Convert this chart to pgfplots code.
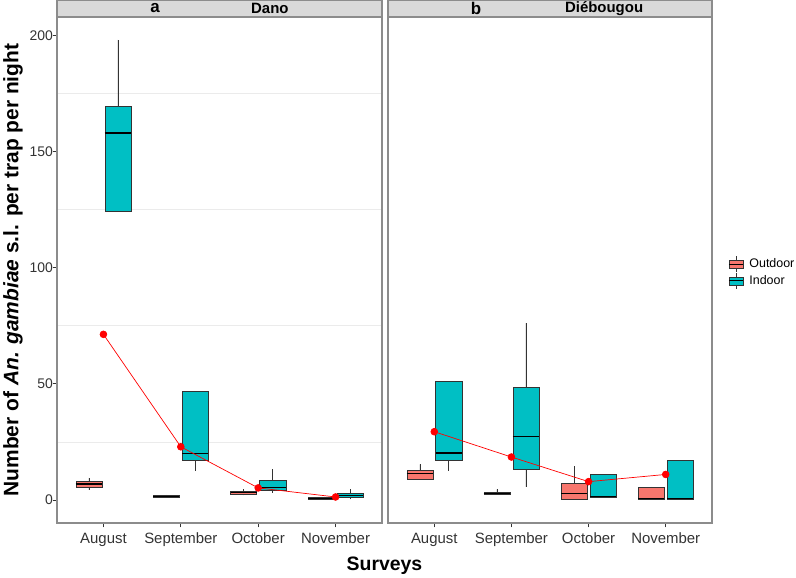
\documentclass[border=0pt]{standalone}
\usepackage{pgfplots}
\pgfplotsset{compat=1.18}
\usepgfplotslibrary{statistics}
\usepackage{fontspec}
\setmainfont{Liberation Sans}
\definecolor{outc}{HTML}{F8766D}
\definecolor{inc}{HTML}{00BFC4}
\definecolor{boxc}{HTML}{333333}
\definecolor{framec}{HTML}{8C8C8C}
\definecolor{stripc}{HTML}{D9D9D9}
\definecolor{gridc}{HTML}{EBEBEB}
\definecolor{meanc}{HTML}{FF0000}
\newcommand{\bx}[7]{\addplot[forget plot, fill=#1, draw=boxc, line width=0.5bp,
  boxplot prepared={draw position=#2, lower whisker=#3, lower quartile=#4,
  median=#5, upper quartile=#6, upper whisker=#7, box extend=0.3375, whisker extend=0}] coordinates {};}
\pgfplotsset{
  panel/.style={scale only axis, height=506bp, xmin=0.4, xmax=4.6, ymin=-9.9, ymax=207.9,
    axis line style={framec, line width=1.2bp},
    xtick={1,2,3,4}, xticklabels={August,September,October,November},
    xtick pos=left, ytick pos=left, tick align=outside, major tick length=4.5bp,
    tick style={boxc, line width=0.7bp},
    minor tick length=0pt, minor ytick={25,75,125,175}, yminorgrids=true, ymajorgrids=false,
    minor grid style={gridc, line width=0.8bp},
    /pgf/number format/assume math mode=true,
    xticklabel style={font=\fontsize{15}{15}\selectfont, text=boxc, yshift=-2bp},
    yticklabel style={font=\fontsize{14}{14}\selectfont, text=boxc, xshift=4bp},
    clip=false,
    boxplot/draw direction=y,
    boxplot/every median/.style={black, line width=1.2bp},
    boxplot/every whisker/.style={boxc, line width=0.6bp},
  },
  legbox/.style={legend image code/.code={
    \draw[boxc, line width=0.6bp] (7bp,-8bp)--(7bp,8bp);
    \draw[boxc, line width=0.5bp, fill=#1] (0bp,-4bp) rectangle (14bp,4bp);
    \draw[black, line width=1.2bp] (0bp,0bp)--(14bp,0bp);
  }},
}
\begin{document}
\begin{tikzpicture}
\path[use as bounding box] (0,0) rectangle (796bp,578bp);
% Panel a: Dano
\begin{axis}[panel, at={(57bp,55bp)}, anchor=south west, width=325bp,
  ytick={0,50,100,150,200}]
\bx{outc}{0.8125}{4.4}{5.6}{6.9}{8.0}{9.5}
\bx{inc}{1.1875}{124.3}{124.3}{158}{169.5}{198}
\bx{outc}{1.8125}{0.9}{1.3}{1.6}{1.9}{2.2}
\bx{inc}{2.1875}{12.6}{17.2}{20.1}{46.9}{46.9}
\bx{outc}{2.8125}{2.0}{2.6}{3.1}{3.7}{4.6}
\bx{inc}{3.1875}{3.1}{4.0}{5.5}{8.5}{13.3}
\bx{outc}{3.8125}{0.2}{0.4}{0.7}{1.2}{1.3}
\bx{inc}{4.1875}{0.3}{1.2}{2.0}{3.0}{4.6}
\addplot[forget plot, meanc, line width=0.7bp, mark=*, mark size=3.4bp, mark options={fill=meanc, draw=meanc}]
  coordinates {(1,71.3) (2,22.9) (3,5.2) (4,1.3)};
\draw[framec, line width=1.2bp, fill=stripc] (rel axis cs:0,1) rectangle ([yshift=17bp]rel axis cs:1,1);
\node[font=\fontsize{17}{17}\selectfont\bfseries, inner sep=0] at ([yshift=8.5bp]rel axis cs:0.302,1) {a};
\node[font=\fontsize{15}{15}\selectfont\bfseries, inner sep=0] at ([yshift=8.5bp]rel axis cs:0.655,1) {Dano};
\end{axis}
% Panel b: Diebougou
\begin{axis}[panel, at={(388bp,55bp)}, anchor=south west, width=324bp,
  ytick=\empty,
  legend style={at={(1,0.495)}, anchor=west, xshift=16bp, draw=none, fill=none,
    font=\fontsize{12.5}{12.5}\selectfont, row sep=0bp, column sep=4bp, inner sep=0pt},
  legend cell align=left]
\addlegendimage{legbox=outc}
\addlegendentry{Outdoor}
\addlegendimage{legbox=inc}
\addlegendentry{Indoor}
\bx{outc}{0.8125}{8.9}{8.9}{11.5}{12.8}{15.3}
\bx{inc}{1.1875}{12.6}{17.2}{20.2}{51.2}{51.2}
\bx{outc}{1.8125}{2.3}{2.3}{2.9}{3.4}{4.6}
\bx{inc}{2.1875}{5.7}{13.2}{27.4}{48.5}{76.1}
\bx{outc}{2.8125}{0.3}{0.3}{2.9}{7.4}{14.6}
\bx{inc}{3.1875}{1.2}{1.2}{1.4}{10.9}{10.9}
\bx{outc}{3.8125}{0.4}{0.4}{0.7}{5.7}{5.7}
\bx{inc}{4.1875}{0.4}{0.4}{0.7}{17.1}{17.1}
\addplot[forget plot, meanc, line width=0.7bp, mark=*, mark size=3.4bp, mark options={fill=meanc, draw=meanc}]
  coordinates {(1,29.4) (2,18.5) (3,7.9) (4,11.0)};
\draw[framec, line width=1.2bp, fill=stripc] (rel axis cs:0,1) rectangle ([yshift=17bp]rel axis cs:1,1);
\node[font=\fontsize{17}{17}\selectfont\bfseries, inner sep=0] at ([yshift=8.5bp]rel axis cs:0.272,1) {b};
\node[font=\fontsize{15}{15}\selectfont\bfseries, inner sep=0] at ([yshift=8.5bp]rel axis cs:0.667,1) {Diébougou};
\end{axis}
\node[rotate=90, anchor=north, inner sep=0, font=\fontsize{21}{21}\selectfont\bfseries] at (3bp,308bp)
  {Number of \textit{An. gambiae} s.l. per trap per night};
\node[font=\fontsize{19.5}{19.5}\selectfont\bfseries] at (384.5bp,12bp) {Surveys};
\end{tikzpicture}
\end{document}
